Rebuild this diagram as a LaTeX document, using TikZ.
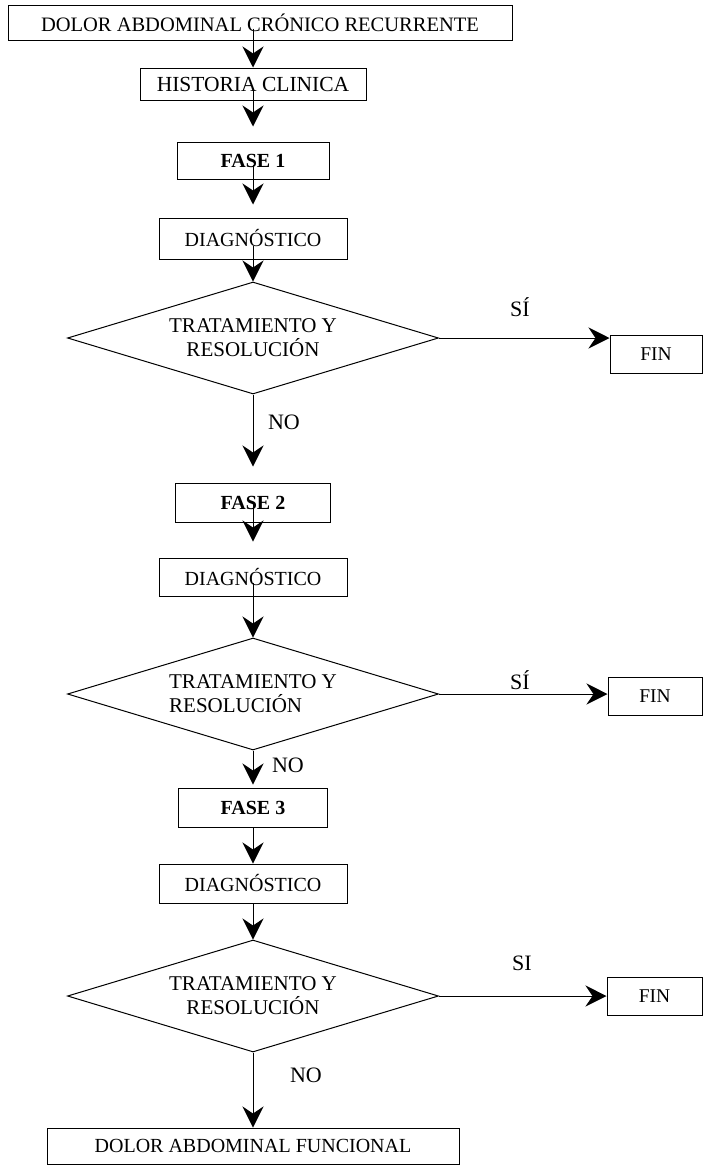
\documentclass[tikz,border=0pt]{standalone}
\usepackage{fontspec}
\setmainfont{Liberation Serif}
\usetikzlibrary{shapes.geometric,arrows.meta}

\begin{document}
\begin{tikzpicture}[x=1pt,y=-1pt,
  caja/.style={draw,line width=1pt,inner sep=0pt,font=\fontsize{20}{24}\selectfont},
  fase/.style={caja,minimum height=37pt,font=\fontsize{20}{24}\selectfont\bfseries},
  rombo/.style={draw,diamond,aspect=3.34,line width=1pt,inner sep=0pt,minimum width=371pt,minimum height=112pt,font=\fontsize{21}{24}\selectfont},
  etiq/.style={font=\fontsize{22}{25}\selectfont},
  flecha/.style={line width=1pt,-{Stealth[length=21pt,width=21pt,inset=7pt]}}]

\useasboundingbox (0,0) rectangle (703,1165);

\node[caja,minimum width=504pt,minimum height=35pt,font=\fontsize{20.5}{24}\selectfont] (dolor) at (260,22.5) {DOLOR ABDOMINAL CRÓNICO RECURRENTE};

\node[caja,minimum width=226pt,minimum height=32pt,font=\fontsize{21.5}{24}\selectfont] (historia) at (253,84) {HISTORIA CLINICA};

\node[fase,minimum width=152pt] (fase1) at (253,160.5) {FASE 1};

\node[caja,minimum width=188pt,minimum height=41pt] (diag1) at (253,238.5) {DIAGNÓSTICO};

\node[rombo,align=center] (trat1) at (253,338) {TRATAMIENTO Y\\RESOLUCIÓN};

\node[caja,minimum width=92pt,minimum height=38pt,font=\fontsize{19.5}{24}\selectfont] (fin1) at (656,354) {FIN};

\node[fase,minimum width=155pt,minimum height=39pt] (fase2) at (253,502.5) {FASE 2};

\node[caja,minimum width=188pt,minimum height=38pt] (diag2) at (253,577) {DIAGNÓSTICO};

\node[rombo,align=left] (trat2) at (253,694) {TRATAMIENTO Y\\RESOLUCIÓN};

\node[caja,minimum width=94pt,minimum height=38pt,font=\fontsize{19.5}{24}\selectfont] (fin2) at (655,696) {FIN};

\node[fase,minimum width=149pt,minimum height=39pt] (fase3) at (253,807.5) {FASE 3};

\node[caja,minimum width=188pt,minimum height=39pt] (diag3) at (253,883.5) {DIAGNÓSTICO};

\node[rombo,align=center] (trat3) at (253,996) {TRATAMIENTO Y\\RESOLUCIÓN};

\node[caja,minimum width=95pt,minimum height=38pt,font=\fontsize{19.5}{24}\selectfont] (fin3) at (654.5,996) {FIN};

\node[caja,minimum width=412pt,minimum height=36pt] (funcional) at (253,1146) {DOLOR ABDOMINAL FUNCIONAL};

\node[etiq] (si1) at (520,307) {SÍ};
\node[etiq] (no1) at (284,422) {NO};
\node[etiq] (si2) at (520,680) {SÍ};
\node[etiq] (no2) at (288,765) {NO};
\node[etiq] (si3) at (522,963) {SI};
\node[etiq] (no3) at (306,1075) {NO};

\draw[flecha,shorten <=-12pt] (dolor.south -| historia.north) -- (historia);
\draw[flecha,shorten <=-12pt,shorten >=15pt] (historia) -- (fase1);
\draw[flecha,shorten <=-15pt,shorten >=13pt] (fase1) -- (diag1);
\draw[flecha,shorten <=-14pt] (diag1) -- (trat1);
\draw[flecha] (trat1.east) -- (trat1.east -| fin1.west);
\draw[flecha,shorten >=16pt] (trat1) -- (fase2);
\draw[flecha,shorten <=-20pt,shorten >=16pt] (fase2) -- (diag2);
\draw[flecha,shorten <=-14pt] (diag2) -- (trat2);
\draw[flecha] (trat2.east) -- (trat2.east -| fin2.west);
\draw[flecha,shorten >=3pt] (trat2) -- (fase3);
\draw[flecha] (fase3) -- (diag3);
\draw[flecha] (diag3) -- (trat3);
\draw[flecha] (trat3.east) -- (trat3.east -| fin3.west);
\draw[flecha] (trat3) -- (funcional);

\end{tikzpicture}
\end{document}
